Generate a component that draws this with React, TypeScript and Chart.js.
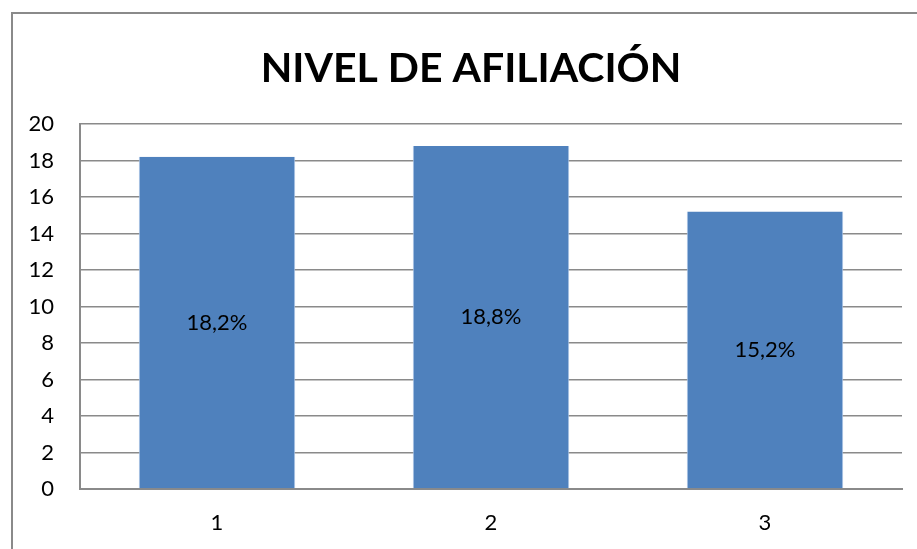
import React, { useEffect, useRef } from "react";
import { Chart, registerables } from "chart.js";

Chart.register(...registerables);

const categories = ["1", "2", "3"];
const values = [18.2, 18.8, 15.2];
const valueLabels = ["18,2%", "18,8%", "15,2%"];
const titleText = "NIVEL DE AFILIACIÓN";
const FONT = "Lato, 'Open Sans', sans-serif";

const framePlugin = {
  id: "frame",
  beforeDraw(chart: any) {
    const ctx = chart.ctx;
    ctx.save();
    ctx.fillStyle = "#ffffff";
    ctx.fillRect(0, 0, chart.width, chart.height);
    ctx.strokeStyle = "#8a8a8a";
    ctx.lineWidth = 2;
    ctx.strokeRect(12, 13, chart.width + 50, chart.height + 50);
    ctx.restore();
  },
  afterDraw(chart: any) {
    const ctx = chart.ctx;
    ctx.save();
    ctx.font = `bold 41px ${FONT}`;
    ctx.fillStyle = "#000000";
    ctx.textAlign = "center";
    ctx.textBaseline = "alphabetic";
    ctx.fillText(titleText, 471, 82);
    ctx.restore();
  },
};

const labelPlugin = {
  id: "barLabels",
  afterDatasetsDraw(chart: any) {
    const ctx = chart.ctx;
    const meta = chart.getDatasetMeta(0);
    ctx.save();
    ctx.font = `22px ${FONT}`;
    ctx.fillStyle = "#000000";
    ctx.textAlign = "center";
    ctx.textBaseline = "middle";
    meta.data.forEach((bar: any, i: number) => {
      const { x, y, base } = bar.getProps(["x", "y", "base"], true);
      ctx.fillText(valueLabels[i], x, (y + base) / 2);
    });
    ctx.restore();
  },
};

export default function App() {
  const ref = useRef<HTMLCanvasElement | null>(null);
  useEffect(() => {
    if (!ref.current) return;
    const chart = new Chart(ref.current, {
      type: "bar",
      data: {
        labels: categories,
        datasets: [
          {
            data: values,
            backgroundColor: "#4F81BD",
            borderColor: "#a9c4e6",
            borderWidth: { left: 1, right: 1, top: 0, bottom: 0 } as any,
            categoryPercentage: 1,
            barPercentage: 0.571,
          },
        ],
      },
      options: {
        animation: false,
        responsive: false,
        maintainAspectRatio: false,
        layout: { padding: { left: 0, right: 15, top: 124, bottom: 0 } },
        plugins: {
          legend: { display: false },
          tooltip: { enabled: false },
          title: { display: false },
        },
        scales: {
          x: {
            grid: { display: false, drawTicks: false },
            border: { display: true, color: "#8a8a8a", width: 2 },
            ticks: {
              color: "#000000",
              font: { family: FONT, size: 22 },
              padding: 21,
            },
            afterFit(scale: any) {
              scale.height = 60;
            },
          },
          y: {
            min: 0,
            max: 20,
            ticks: {
              stepSize: 2,
              color: "#000000",
              font: { family: FONT, size: 22 },
              padding: 26,
            },
            grid: { color: "#8a8a8a", lineWidth: 1.5, drawTicks: false },
            border: { display: true, color: "#8a8a8a", width: 2 },
            afterFit(scale: any) {
              scale.width = 80;
            },
          },
        },
      },
      plugins: [framePlugin, labelPlugin],
    });
    return () => chart.destroy();
  }, []);
  return (
    <div style={{ position: "fixed", left: 0, top: 0, width: 917, height: 549 }}>
      <canvas ref={ref} width={917} height={549} style={{ width: 917, height: 549, display: "block" }} />
    </div>
  );
}
